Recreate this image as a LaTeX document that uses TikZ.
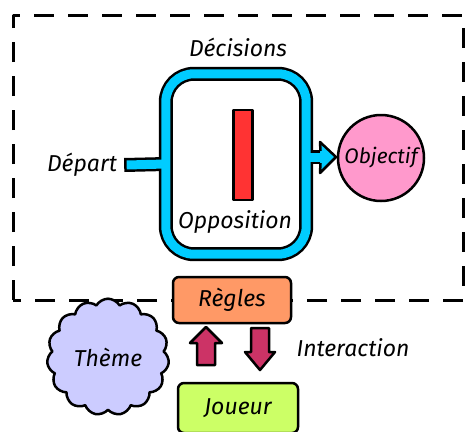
\documentclass[tikz,border=0pt]{standalone}
\usepackage{fontspec}
\setmainfont{Fira Sans}
\usepackage{xcolor}
\definecolor{cBand}{HTML}{00CCFF}
\definecolor{cBar}{HTML}{FF3333}
\definecolor{cGoal}{HTML}{FF99CC}
\definecolor{cRule}{HTML}{FF9966}
\definecolor{cTheme}{HTML}{CCCCFF}
\definecolor{cPlayer}{HTML}{CCFF66}
\definecolor{cFlow}{HTML}{CC3366}
\usetikzlibrary{positioning,arrows.meta,shapes.geometric,shapes.symbols,calc}
\tikzset{
  hand/.style={font=\fontsize{23}{27}\selectfont\itshape},
  node-label/.style={hand,inner sep=0pt},
  node-box/.style={draw=black,line width=2.5pt,rounded corners=6pt,
    minimum width=118pt,minimum height=46pt,hand},
  node-goal/.style={draw=black,line width=2.5pt,circle,fill=cGoal,
    minimum size=86pt,inner sep=0pt,font=\fontsize{21}{25}\selectfont\itshape},
  node-cloud/.style={draw=black,line width=2.5pt,cloud,cloud puffs=15,
    cloud puff arc=120,fill=cTheme,minimum width=122pt,minimum height=62pt,hand},
  flow-arrow/.style={draw=black,line width=2.5pt,fill=cFlow},
  band-out/.style={line width=14pt,draw=black},
  band-in/.style={line width=9pt,draw=cBand},
  frame/.style={draw=black,line width=3pt,dash pattern=on 20pt off 14pt},
}

\begin{document}
\begin{tikzpicture}[x=1pt,y=-1pt,line join=round]
  \useasboundingbox (0,0) rectangle (465,431);
  % cadre du jeu
  \draw[frame] (13,300) -- (13,15) -- (463,15) -- (463,300) -- cycle;

  % boucle des decisions
  \node[minimum width=140pt,minimum height=180pt] (loop) at (236,164) {};
  \node[node-label] (depart) at (82,165) {Départ};
  \node[node-label] (decisions) at (238,47) {Décisions};
  \node[node-label] (opposition) at (235,222) {Opposition};
  \node[node-goal] (objectif) at (381,158) {Objectif};
  \coordinate (shaft) at (321,157);

  \draw[band-out] ($(depart.east)+(7,0)$) -- (loop.west);
  \draw[band-out,rounded corners=28pt] (loop.north west) rectangle (loop.south east);
  \draw[band-out] (loop.east |- shaft) -- (shaft);
  \draw[band-in] ($(depart.east)+(9.5,0)$) -- (loop.west);
  \draw[band-in,rounded corners=28pt] (loop.north west) rectangle (loop.south east);
  \draw[band-in] (loop.east |- shaft) -- (shaft);
  \fill[cBand] (320,152) -- (320,142) -- (336,157) -- (320,173) -- (320,162) -- cycle;
  \draw[line width=2.5pt] (320.5,151) -- (320,142) -- (336,157) -- (320,173) -- (320.5,163);

  \node[draw=black,line width=2.5pt,fill=cBar,minimum width=19pt,
    minimum height=90pt,inner sep=0pt] (bar) at (243,155) {};

  % regles et joueur
  \node[node-box,fill=cRule] (regles) at (232,300) {Règles};
  \node[node-box,fill=cPlayer,minimum width=120pt,minimum height=50pt] (joueur) at (238,408) {Joueur};
  \node[node-cloud] (theme) at (108,357) {Thème};
  \coordinate (up) at (206,346);
  \coordinate (down) at (260,349);
  \draw[flow-arrow,shift={(up)}] (-9,19) -- (-9,-3) -- (-16,-3) -- (0,-19)
    -- (16,-3) -- (9,-3) -- (9,19) -- cycle;
  \draw[flow-arrow,shift={(down)}] (-9,-21) -- (-9,3) -- (-15,3) -- (0,21)
    -- (15,3) -- (9,3) -- (9,-21) -- cycle;
  \node[node-label] (interaction) at (353,348) {Interaction};
\end{tikzpicture}
\end{document}
